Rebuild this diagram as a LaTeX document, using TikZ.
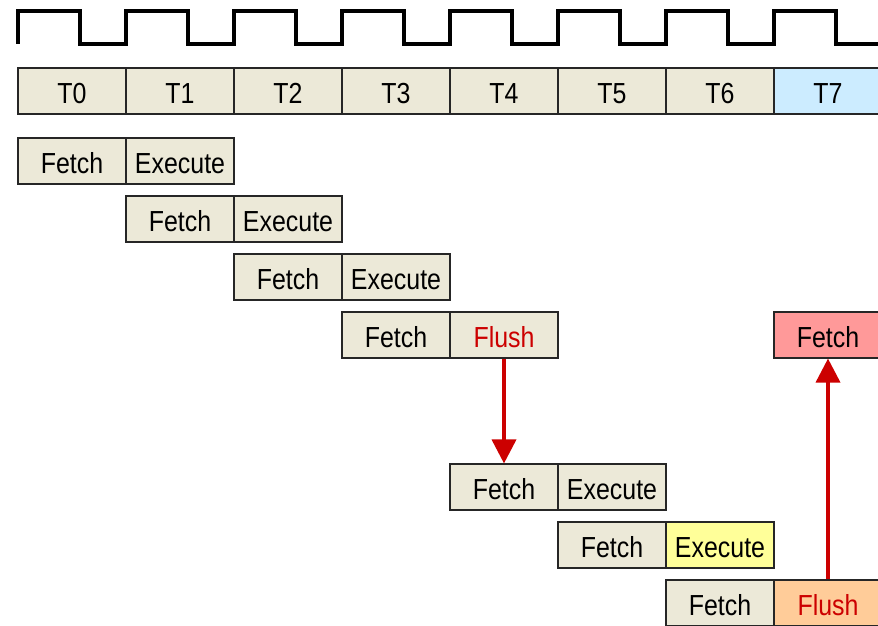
\documentclass[tikz,border=0pt]{standalone}
\usepackage{fontspec}
\setmainfont{Liberation Sans}[FakeStretch=0.86]
\usepackage{tikz}
\usetikzlibrary{arrows.meta}

\definecolor{cellbeige}{HTML}{ECE9D8}
\definecolor{cellblue}{HTML}{CCECFF}
\definecolor{cellpink}{HTML}{FF9999}
\definecolor{cellyellow}{HTML}{FFFF99}
\definecolor{cellorange}{HTML}{FFCC99}
\definecolor{flushred}{HTML}{CC0000}

\tikzset{
	cell/.style={shape=rectangle,draw=black!85,line width=1.1pt,fill=cellbeige,
		minimum width=108pt,minimum height=46pt,inner sep=0pt,
		text height=24pt,text depth=0pt,
		font=\fontsize{29}{32}\selectfont},
	flushtext/.style={text=flushred},
	jump/.style={draw=flushred,fill=flushred,line width=3.6pt,
		-{Triangle[width=24pt,length=24pt]}},
	clock/.style={line width=3.6pt,line join=miter}
}

\begin{document}
\begin{tikzpicture}[x=1pt,y=-1pt]
	\useasboundingbox (0,0) rectangle (878,626);
	
	% clock signal
	\draw[clock] (18,44) -- (18,11)
		foreach \i in {0,...,6} { -- ++(62,0) -- ++(0,33) -- ++(46,0) -- ++(0,-33) }
		-- ++(62,0) -- ++(0,33) -- (878,44);
	
	% time slots
	\node[cell] (t0) at (72, 91)  {T0};
	\node[cell] (t1) at (180, 91) {T1};
	\node[cell] (t2) at (288, 91) {T2};
	\node[cell] (t3) at (396, 91) {T3};
	\node[cell] (t4) at (504, 91) {T4};
	\node[cell] (t5) at (612, 91) {T5};
	\node[cell] (t6) at (720, 91) {T6};
	\node[cell,fill=cellblue] (t7) at (828, 91) {T7};
	
	% pipeline stages
	\node[cell] (f1) at (72, 161)  {Fetch};
	\node[cell] (e1) at (180, 161) {Execute};
	\node[cell] (f2) at (180, 219) {Fetch};
	\node[cell] (e2) at (288, 219) {Execute};
	\node[cell] (f3) at (288, 277) {Fetch};
	\node[cell] (e3) at (396, 277) {Execute};
	\node[cell] (f4) at (396, 335) {Fetch};
	\node[cell,flushtext] (x4) at (504, 335) {Flush};
	\node[cell,fill=cellpink] (f8) at (828, 335) {Fetch};
	\node[cell] (f5) at (504, 487) {Fetch};
	\node[cell] (e5) at (612, 487) {Execute};
	\node[cell] (f6) at (612, 545) {Fetch};
	\node[cell,fill=cellyellow] (e6) at (720, 545) {Execute};
	\node[cell] (f7) at (720, 603) {Fetch};
	\node[cell,fill=cellorange,flushtext] (x7) at (828, 603) {Flush};
	
	% branches
	\draw[jump] (x4.south) -- (f5.north);
	\draw[jump] (x7.north) -- (f8.south);

\end{tikzpicture}
\end{document}
